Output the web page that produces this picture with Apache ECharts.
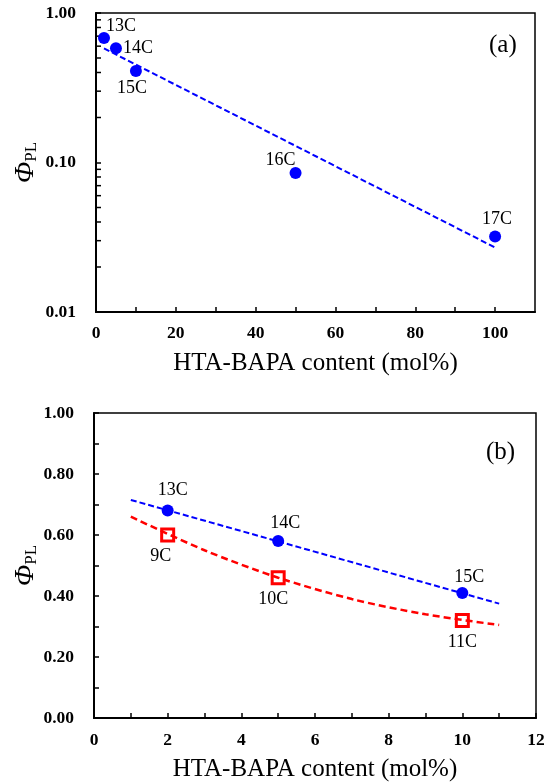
<!DOCTYPE html>
<html>
<head>
<meta charset="utf-8">
<script src="https://cdn.jsdelivr.net/npm/echarts@6/dist/echarts.min.js"></script>
<style>
  html, body { margin: 0; padding: 0; background: #fff; }
  #grafica { width: 550px; height: 784px; }
</style>
</head>
<body>
<div id="grafica"></div>
<script>
// panel (a): HTA-BAPA content vs PL quantum yield (log)
var xA = [2, 5, 10, 50, 100];
var yA = [0.68, 0.58, 0.41, 0.085, 0.032];
var nombresA = ['13C', '14C', '15C', '16C', '17C'];
var ajusteAx = [2, 100];
var ajusteAy = [0.58, 0.027];

// panel (b): low content range
var xB = [2, 5, 10];
var azulB = [0.68, 0.58, 0.41];
var rojoB = [0.60, 0.46, 0.32];
var nombresAzul = ['13C', '14C', '15C'];
var nombresRojo = ['9C', '10C', '11C'];
var ajusteAzulX = [1, 11];
var ajusteAzulY = [0.715, 0.375];
var ajusteRojoX = [1, 3, 5, 7, 9, 11];
var ajusteRojoY = [0.66, 0.55, 0.46, 0.39, 0.34, 0.305];

// minor ticks of the log axis
var ticksMenoresLog = [0.02, 0.03, 0.04, 0.05, 0.06, 0.07, 0.08, 0.09,
                       0.2, 0.3, 0.4, 0.5, 0.6, 0.7, 0.8, 0.9];

var fuente = 'Liberation Serif';
var azul = '#0000FF';
var rojo = '#FF0000';

function pares(xs, ys) {
    return xs.map(function (x, i) { return [x, ys[i]]; });
}

// label placement for each point (style, not data)
function etiquetas(xs, ys, nombres, pos) {
    return xs.map(function (x, i) {
        return {
            value: [x, ys[i]],
            label: {
                show: true,
                formatter: nombres[i],
                position: pos[i][0],
                offset: pos[i][1],
                distance: 5,
                color: '#000',
                fontFamily: fuente,
                fontSize: 18
            }
        };
    });
}

var estiloNombreX = { color: '#000', fontFamily: fuente, fontSize: 25 };
var estiloEtiqueta = { color: '#000', fontFamily: fuente, fontSize: 17.5, fontWeight: 'bold' };
var lineaEje = { show: true, onZero: false, lineStyle: { color: '#000', width: 2 } };
var tickEje = { show: true, inside: true, length: 5, lineStyle: { color: '#000', width: 1.5 } };

var nombreY = '{phi|Φ}{sub|PL}';
var richY = {
    phi: { fontFamily: fuente, fontStyle: 'italic', fontSize: 28, color: '#000', verticalAlign: 'bottom', lineHeight: 32 },
    sub: { fontFamily: fuente, fontSize: 17, color: '#000', verticalAlign: 'bottom', lineHeight: 24 }
};

var grafico = echarts.init(document.getElementById('grafica'), null, { renderer: 'canvas' });

var option = {
    animation: false,
    backgroundColor: '#fff',
    title: [
        { text: '(a)', left: 484, top: 28, textStyle: { fontFamily: fuente, fontSize: 25, fontWeight: 'normal', color: '#000' } },
        { text: '(b)', left: 481, top: 435, textStyle: { fontFamily: fuente, fontSize: 25, fontWeight: 'normal', color: '#000' } }
    ],
    grid: [
        { left: 96, top: 13, width: 439, height: 299, show: true, borderColor: '#000', borderWidth: 1.5, backgroundColor: 'transparent', containLabel: false, outerBoundsMode: 'none' },
        { left: 94, top: 413, width: 442, height: 305, show: true, borderColor: '#000', borderWidth: 1.5, backgroundColor: 'transparent', containLabel: false, outerBoundsMode: 'none' }
    ],
    xAxis: [
        {
            gridIndex: 0, type: 'value', min: 0, max: 110, interval: 10,
            name: 'HTA-BAPA content (mol%)', nameLocation: 'middle', nameGap: 39, nameTextStyle: estiloNombreX, nameMoveOverlap: false,
            axisLine: lineaEje, axisTick: tickEje, splitLine: { show: false },
            axisLabel: Object.assign({ margin: 12, showMaxLabel: false, formatter: function (v) { return v % 20 === 0 ? String(v) : ''; } }, estiloEtiqueta)
        },
        {
            gridIndex: 1, type: 'value', min: 0, max: 12, interval: 1,
            name: 'HTA-BAPA content (mol%)', nameLocation: 'middle', nameGap: 39, nameTextStyle: estiloNombreX, nameMoveOverlap: false,
            axisLine: lineaEje, axisTick: tickEje, splitLine: { show: false },
            axisLabel: Object.assign({ margin: 13, formatter: function (v) { return v % 2 === 0 ? String(v) : ''; } }, estiloEtiqueta)
        }
    ],
    yAxis: [
        {
            gridIndex: 0, type: 'log', logBase: 10, min: 0.01, max: 1, interval: 1,
            name: nombreY, nameLocation: 'middle', nameGap: 56, nameRotate: 90, nameMoveOverlap: false,
            nameTextStyle: { rich: richY },
            axisLine: lineaEje, axisTick: tickEje, splitLine: { show: false }, minorTick: { show: false },
            axisLabel: Object.assign({ margin: 20, formatter: function (v) { return v.toFixed(2); } }, estiloEtiqueta)
        },
        {
            gridIndex: 1, type: 'value', min: 0, max: 1, interval: 0.1,
            name: nombreY, nameLocation: 'middle', nameGap: 54, nameRotate: 90, nameMoveOverlap: false,
            nameTextStyle: { rich: richY },
            axisLine: lineaEje, axisTick: tickEje, splitLine: { show: false },
            axisLabel: Object.assign({ margin: 20, formatter: function (v) { return Math.round(v * 10) % 2 === 0 ? v.toFixed(2) : ''; } }, estiloEtiqueta)
        }
    ],
    series: [
        {
            name: 'menores', type: 'scatter', xAxisIndex: 0, yAxisIndex: 0, silent: true, clip: false,
            symbol: 'rect', symbolSize: [4, 1.5], symbolOffset: [3, 0],
            itemStyle: { color: '#000', opacity: 1 },
            data: ticksMenoresLog.map(function (v) { return [0, v]; })
        },
        {
            name: 'ajuste a', type: 'line', xAxisIndex: 0, yAxisIndex: 0, showSymbol: false, silent: true,
            lineStyle: { color: azul, width: 2, type: [6, 3] },
            data: pares(ajusteAx, ajusteAy)
        },
        {
            name: 'puntos a', type: 'scatter', xAxisIndex: 0, yAxisIndex: 0, symbol: 'circle', symbolSize: 12,
            itemStyle: { color: azul, opacity: 1 },
            data: etiquetas(xA, yA, nombresA, [
                ['top', [17, 8]],
                ['right', [-4, 0]],
                ['bottom', [-4, -3]],
                ['top', [-15, 7]],
                ['top', [2, 3]]
            ])
        },
        {
            name: 'ajuste azul', type: 'line', xAxisIndex: 1, yAxisIndex: 1, showSymbol: false, silent: true,
            lineStyle: { color: azul, width: 2, type: [6, 3] },
            data: pares(ajusteAzulX, ajusteAzulY)
        },
        {
            name: 'ajuste rojo', type: 'line', xAxisIndex: 1, yAxisIndex: 1, showSymbol: false, silent: true, smooth: 0.3,
            lineStyle: { color: rojo, width: 2.5, type: [7, 4] },
            data: pares(ajusteRojoX, ajusteRojoY)
        },
        {
            name: 'azul b', type: 'scatter', xAxisIndex: 1, yAxisIndex: 1, symbol: 'circle', symbolSize: 12,
            itemStyle: { color: azul, opacity: 1 },
            data: etiquetas(xB, azulB, nombresAzul, [
                ['top', [5, 0]],
                ['top', [7, 2]],
                ['top', [7, 4]]
            ])
        },
        {
            name: 'rojo b', type: 'scatter', xAxisIndex: 1, yAxisIndex: 1, symbol: 'rect', symbolSize: 12,
            itemStyle: { color: '#fff', borderColor: rojo, borderWidth: 3, opacity: 1 },
            data: etiquetas(xB, rojoB, nombresRojo, [
                ['bottom', [-7, 0]],
                ['bottom', [-5, 0]],
                ['bottom', [0, 0]]
            ])
        }
    ]
};

option && grafico.setOption(option, true);
</script>
</body>
</html>
